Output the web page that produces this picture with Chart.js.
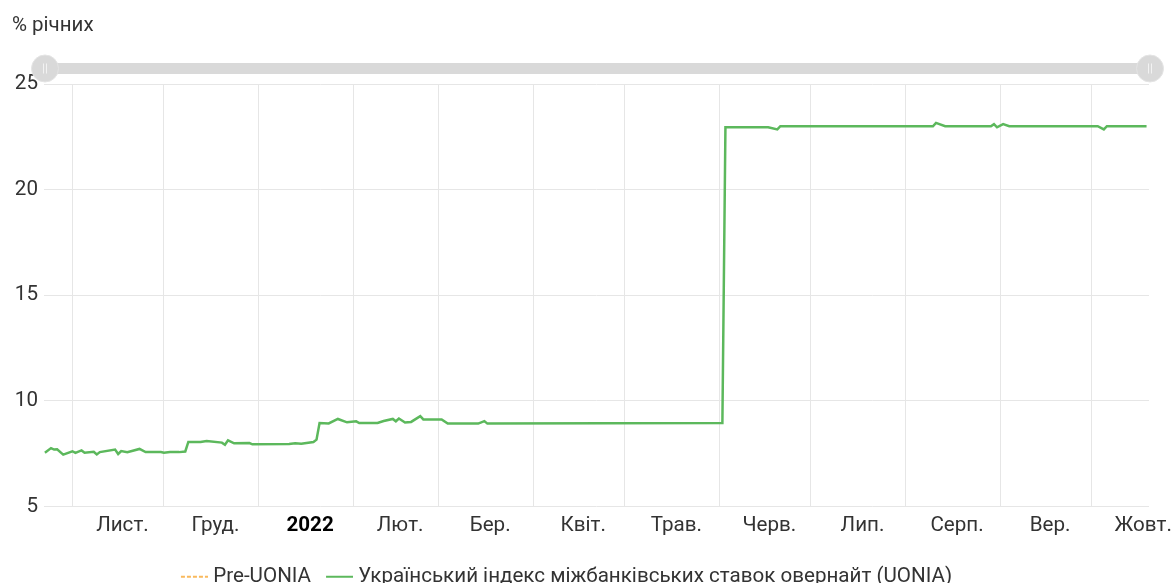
<!DOCTYPE html>
<html>
<head>
<meta charset="utf-8">
<script src="https://cdn.jsdelivr.net/npm/chart.js@4"></script>
<style>
  body { margin: 0; overflow: hidden; background: #fff; font-family: Roboto, sans-serif; }
  #wrap { position: relative; width: 1174px; height: 597px; }
  #unit { position: absolute; left: 12px; top: 12px; font-size: 20.5px; color: #333; line-height: 1.2; }
</style>
</head>
<body>
<div id="wrap">
  <canvas id="chart" width="1174" height="597"></canvas>
  <div id="unit">% річних</div>
</div>
<script>
// UONIA, % річних
const dates = [
  '2021-10-23', '2021-10-25', '2021-10-26', '2021-10-27', '2021-10-29',
  '2021-11-01', '2021-11-02', '2021-11-04', '2021-11-05', '2021-11-08',
  '2021-11-09', '2021-11-10', '2021-11-15', '2021-11-16', '2021-11-17',
  '2021-11-19', '2021-11-23', '2021-11-25', '2021-11-30', '2021-12-01',
  '2021-12-03', '2021-12-06', '2021-12-08', '2021-12-09', '2021-12-13',
  '2021-12-15', '2021-12-20', '2021-12-21', '2021-12-22', '2021-12-24',
  '2021-12-29', '2021-12-30', '2022-01-11', '2022-01-13', '2022-01-15',
  '2022-01-19', '2022-01-20', '2022-01-21', '2022-01-24', '2022-01-27',
  '2022-01-30', '2022-02-02', '2022-02-03', '2022-02-09', '2022-02-11',
  '2022-02-14', '2022-02-15', '2022-02-16', '2022-02-18', '2022-02-20',
  '2022-02-23', '2022-02-24', '2022-03-02', '2022-03-04', '2022-03-14',
  '2022-03-16', '2022-03-17', '2022-06-02', '2022-06-03', '2022-06-17',
  '2022-06-20', '2022-06-21', '2022-08-10', '2022-08-11', '2022-08-14',
  '2022-08-29', '2022-08-30', '2022-08-31', '2022-09-02', '2022-09-04',
  '2022-10-03', '2022-10-05', '2022-10-06', '2022-10-19'
];
const uonia = [
  7.54, 7.76, 7.69, 7.70, 7.45,
  7.61, 7.53, 7.65, 7.54, 7.59,
  7.46, 7.57, 7.69, 7.48, 7.62,
  7.57, 7.72, 7.57, 7.57, 7.54,
  7.57, 7.57, 7.60, 8.05, 8.05,
  8.10, 8.02, 7.92, 8.13, 7.99,
  8.00, 7.94, 7.95, 7.99, 7.97,
  8.05, 8.16, 8.95, 8.93, 9.14,
  8.98, 9.03, 8.95, 8.95, 9.04,
  9.14, 9.03, 9.16, 8.97, 9.00,
  9.27, 9.12, 9.12, 8.92, 8.92,
  9.04, 8.92, 8.95, 22.95, 22.95,
  22.85, 23.00, 23.00, 23.16, 23.00,
  23.00, 23.10, 22.95, 23.10, 23.00,
  23.00, 22.85, 23.00, 23.00
];
const preUonia = [];

const monthStarts = [
  '2021-11-01', '2021-12-01', '2022-01-01', '2022-02-01', '2022-03-01', '2022-04-01',
  '2022-05-01', '2022-06-01', '2022-07-01', '2022-08-01', '2022-09-01', '2022-10-01'
];
const monthLabels = ['Лист.', 'Груд.', '2022', 'Лют.', 'Бер.', 'Квіт.', 'Трав.', 'Черв.', 'Лип.', 'Серп.', 'Вер.', 'Жовт.'];
const yTicks = [5, 10, 15, 20, 25];

// x axis is in days from 2021-11-01
const DAY = 86400000;
const ORIGIN = Date.UTC(2021, 10, 1);
const toDay = s => {
  const [y, m, d] = s.split('-').map(Number);
  return (Date.UTC(y, m - 1, d) - ORIGIN) / DAY;
};
const X_MIN = -9.3, X_MAX = 352.8;

const gridTicks = monthStarts.map(toDay);
// labels sit in the middle of each month cell
const labelTicks = gridTicks.map((v, i) => {
  const next = i < gridTicks.length - 1 ? gridTicks[i + 1] : v + 31;
  return (v + next) / 2 + 1.4;
});

const GRID = '#e6e6e6';
const TEXT = '#333';
const FONT = 'Roboto, sans-serif';
const FS = 20.6;

const scrollbar = {
  id: 'scrollbar',
  afterLayout(chart) {
    // legend sits a little left of centre in the original
    chart.legend.left -= 8;
    chart.legend.right -= 8;
  },
  afterDraw(chart) {
    const { ctx, chartArea } = chart;
    const y = chartArea.top - 15.5;
    const x0 = chartArea.left + 1, x1 = chartArea.right + 1;
    ctx.save();
    ctx.fillStyle = '#d9d9d9';
    ctx.beginPath();
    ctx.roundRect(x0, y - 5.5, x1 - x0, 11, 5.5);
    ctx.fill();
    [x0, x1].forEach(cx => {
      ctx.beginPath();
      ctx.arc(cx, y, 13.5, 0, Math.PI * 2);
      ctx.fillStyle = '#d9d9d9';
      ctx.fill();
      ctx.strokeStyle = '#e4e4e4';
      ctx.lineWidth = 1;
      ctx.stroke();
      ctx.strokeStyle = '#f2f2f2';
      ctx.beginPath();
      ctx.moveTo(cx - 1.5, y - 5); ctx.lineTo(cx - 1.5, y + 5);
      ctx.moveTo(cx + 1.5, y - 5); ctx.lineTo(cx + 1.5, y + 5);
      ctx.stroke();
    });
    ctx.restore();
  }
};

// legend swatch: 27px line, ending close to the text
function legendLine(color, dash) {
  const c = document.createElement('canvas');
  c.width = 32; c.height = 6;
  const g = c.getContext('2d');
  g.strokeStyle = color;
  g.lineWidth = 2;
  g.setLineDash(dash);
  g.beginPath(); g.moveTo(5, 3); g.lineTo(32, 3); g.stroke();
  return c;
}

// keep the plot edges fixed regardless of label overflow
const noSidePadding = scale => {
  scale.paddingLeft = 0;
  scale.paddingRight = 0;
};

new Chart(document.getElementById('chart'), {
  type: 'line',
  data: {
    datasets: [
      {
        label: 'Pre-UONIA',
        data: preUonia,
        borderColor: '#f9b95c',
        borderDash: [4, 2],
        borderWidth: 1.5,
        pointRadius: 0
      },
      {
        label: 'Український індекс міжбанківських ставок овернайт (UONIA)',
        data: dates.map((d, i) => ({ x: toDay(d), y: uonia[i] })),
        borderColor: '#5cb85c',
        borderWidth: 2.5,
        pointRadius: 0,
        tension: 0
      }
    ]
  },
  options: {
    responsive: false,
    animation: false,
    layout: { padding: { top: 84, right: 25, left: 0, bottom: 0 } },
    scales: {
      x: {
        type: 'linear',
        min: X_MIN, max: X_MAX,
        border: { display: false },
        grid: { color: GRID, drawTicks: false },
        ticks: { display: false },
        afterBuildTicks: scale => { scale.ticks = gridTicks.map(value => ({ value })); },
        afterFit: scale => { scale.height = 0; noSidePadding(scale); }
      },
      xl: {
        type: 'linear',
        position: 'bottom',
        min: X_MIN, max: X_MAX,
        border: { display: false },
        grid: { display: false, drawTicks: false },
        ticks: {
          autoSkip: false,
          maxRotation: 0,
          padding: 7,
          color: ctx => ctx.index === 2 ? '#000' : TEXT,
          font: ctx => ({ family: FONT, size: FS, weight: ctx.index === 2 ? 'bold' : 'normal' }),
          callback: (v, i) => monthLabels[i]
        },
        afterBuildTicks: scale => { scale.ticks = labelTicks.map(value => ({ value })); },
        afterFit: scale => { scale.height = 45; noSidePadding(scale); }
      },
      y: {
        min: 5, max: 25,
        border: { display: false },
        grid: { color: GRID, drawTicks: false },
        ticks: {
          padding: 6,
          color: TEXT,
          font: { family: FONT, size: FS }
        },
        afterBuildTicks: scale => { scale.ticks = yTicks.map(value => ({ value })); },
        afterFit: scale => { scale.width = 44; }
      }
    },
    plugins: {
      tooltip: { enabled: false },
      legend: {
        position: 'bottom',
        labels: {
          usePointStyle: true,
          pointStyleWidth: 22,
          padding: 15,
          color: TEXT,
          font: { family: FONT, size: FS },
          generateLabels: chart => chart.data.datasets.map((ds, i) => ({
            text: ds.label,
            datasetIndex: i,
            hidden: false,
            fillStyle: ds.borderColor,
            strokeStyle: ds.borderColor,
            lineWidth: 2,
            pointStyle: legendLine(ds.borderColor, ds.borderDash || []),
            fontColor: TEXT
          }))
        }
      }
    }
  },
  plugins: [scrollbar]
});
</script>
</body>
</html>
